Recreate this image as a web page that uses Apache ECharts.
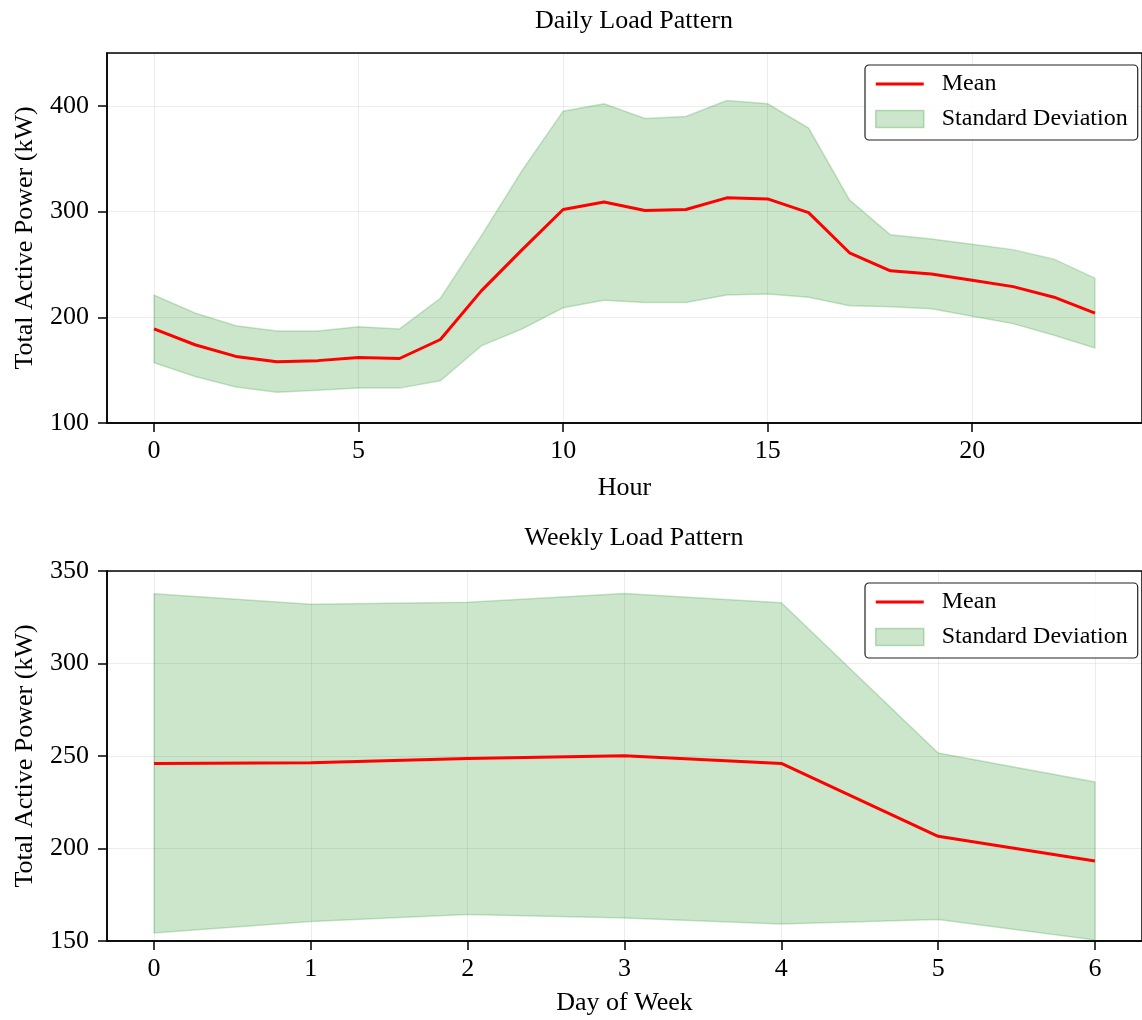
<!DOCTYPE html>
<html>
<head>
<meta charset="utf-8">
<title>Load Pattern</title>
<script src="https://cdn.jsdelivr.net/npm/echarts@6/dist/echarts.min.js"></script>
<style>
	html, body { margin: 0; padding: 0; background: #fff; }
	#chart { width: 1142px; height: 1020px; }
</style>
</head>
<body>
<div id="chart"></div>
<script>
// daily pattern (hour of day)
var hours = [0, 1, 2, 3, 4, 5, 6, 7, 8, 9, 10, 11, 12, 13, 14, 15, 16, 17, 18, 19, 20, 21, 22, 23];
var hourMean = [189, 174, 163, 158, 159, 162, 161, 179, 225, 264, 302, 309, 301, 302, 313, 312, 299, 261, 244, 241, 235, 229, 219, 204];
var hourStd = [32, 30, 29, 29, 28, 29, 28, 39, 52, 75, 93, 93, 87, 88, 92, 90, 80, 50, 34, 33, 34, 35, 36, 33];
var hourTicks = [0, 5, 10, 15, 20];

// weekly pattern (day of week)
var days = [0, 1, 2, 3, 4, 5, 6];
var dayMean = [246, 246.3, 248.7, 250.1, 246, 206.6, 193.3];
var dayStd = [91.7, 85.7, 84.4, 87.7, 86.8, 45, 42.7];
var dayTicks = [0, 1, 2, 3, 4, 5, 6];

var FONT = '"Liberation Serif", "Times New Roman", serif';
var GREEN = 'rgba(0,128,0,0.2)';
var GRID_LINE = 'rgba(0,0,0,0.07)';

function pairs(xs, ys) {
	return xs.map(function (x, i) { return [x, ys[i]]; });
}

// matplotlib style 5% margin on each side
function padded(xs) {
	var span = xs[xs.length - 1] - xs[0];
	return [xs[0] - span * 0.05, xs[xs.length - 1] + span * 0.05];
}

function xAxis(idx, xs, ticks, name, gap) {
	var ext = padded(xs);
	return {
		type: 'value', gridIndex: idx, min: ext[0], max: ext[1],
		name: name, nameLocation: 'middle', nameGap: gap,
		nameTextStyle: {fontFamily: FONT, fontSize: 26, color: '#000'},
		axisLine: {show: true, onZero: false, lineStyle: {color: '#000', width: 1.5}},
		axisTick: {show: true, length: 9, lineStyle: {color: '#000', width: 1.5}, customValues: ticks},
		axisLabel: {fontFamily: FONT, fontSize: 26, color: '#000', margin: 15, customValues: ticks},
		splitLine: {show: true, lineStyle: {color: GRID_LINE, width: 1}}
	};
}

function yAxis(idx, min, max, interval, showMax) {
	return {
		type: 'value', gridIndex: idx, min: min, max: max, interval: interval,
		name: 'Total Active Power (kW)', nameLocation: 'middle', nameGap: 69,
		nameTextStyle: {fontFamily: FONT, fontSize: 26, color: '#000'},
		axisLine: {show: true, onZero: false, lineStyle: {color: '#000', width: 1.5}},
		axisTick: {show: true, length: 9, lineStyle: {color: '#000', width: 1.5}},
		axisLabel: {fontFamily: FONT, fontSize: 26, color: '#000', margin: 18, showMaxLabel: showMax},
		splitLine: {show: true, lineStyle: {color: GRID_LINE, width: 1}}
	};
}

// fill_between-like band: one polygon through mean +/- std
function bandRenderer(xs, low, high) {
	return function (params, api) {
		if (params.dataIndex !== 0) return;
		var pts = [];
		var i;
		for (i = 0; i < xs.length; i++) pts.push(api.coord([xs[i], high[i]]));
		for (i = xs.length - 1; i >= 0; i--) pts.push(api.coord([xs[i], low[i]]));
		return {
			type: 'polygon',
			shape: {points: pts},
			style: {fill: GREEN, stroke: GREEN, lineWidth: 1.5}
		};
	};
}

function seriesFor(idx, xs, mean, std) {
	var low = mean.map(function (m, i) { return m - std[i]; });
	var high = mean.map(function (m, i) { return m + std[i]; });
	return [{
		name: 'Standard Deviation', type: 'custom', xAxisIndex: idx, yAxisIndex: idx,
		data: xs.map(function (x, i) { return [x, low[i], high[i]]; }),
		encode: {x: 0, y: [1, 2]},
		renderItem: bandRenderer(xs, low, high),
		itemStyle: {color: GREEN},
		silent: true, z: 2
	}, {
		name: 'Mean', type: 'line', xAxisIndex: idx, yAxisIndex: idx,
		data: pairs(xs, mean), symbol: 'none', z: 5,
		itemStyle: {color: '#ff0000'},
		lineStyle: {color: '#ff0000', width: 3}
	}];
}

function legend(top) {
	return {
		left: 865, top: top, orient: 'vertical',
		padding: [7, 10, 9, 10], itemGap: 11,
		itemWidth: 48, itemHeight: 17,
		backgroundColor: 'rgba(255,255,255,0.8)',
		borderColor: '#222', borderWidth: 1.2, borderRadius: 4,
		textStyle: {fontFamily: FONT, fontSize: 24, color: '#000', padding: [0, 0, 0, 13]},
		data: [
			{name: 'Mean', icon: 'path://M0,0H48V3H0Z'},
			{name: 'Standard Deviation', icon: 'rect',
				itemStyle: {color: GREEN, borderColor: 'rgba(0,128,0,0.25)', borderWidth: 1.5}}
		]
	};
}

function title(text, top) {
	return {
		text: text, left: 629, top: top, textAlign: 'center',
		textStyle: {fontFamily: FONT, fontSize: 26, fontWeight: 'normal', color: '#000'}
	};
}

var chart = echarts.init(document.getElementById('chart'), null, {renderer: 'canvas'});

chart.setOption({
	animation: false,
	backgroundColor: '#fff',
	title: [title('Daily Load Pattern', 3), title('Weekly Load Pattern', 520)],
	legend: [legend(65), legend(583)],
	grid: [
		{left: 107, top: 53, width: 1044, height: 370, show: true, borderColor: '#000', borderWidth: 1.5, backgroundColor: 'transparent'},
		{left: 107, top: 571, width: 1044, height: 370, show: true, borderColor: '#000', borderWidth: 1.5, backgroundColor: 'transparent'}
	],
	xAxis: [
		xAxis(0, hours, hourTicks, 'Hour', 52),
		xAxis(1, days, dayTicks, 'Day of Week', 49)
	],
	yAxis: [
		yAxis(0, 100, 450, 100, false),
		yAxis(1, 150, 350, 50, true)
	],
	series: seriesFor(0, hours, hourMean, hourStd).concat(seriesFor(1, days, dayMean, dayStd))
});
</script>
</body>
</html>
